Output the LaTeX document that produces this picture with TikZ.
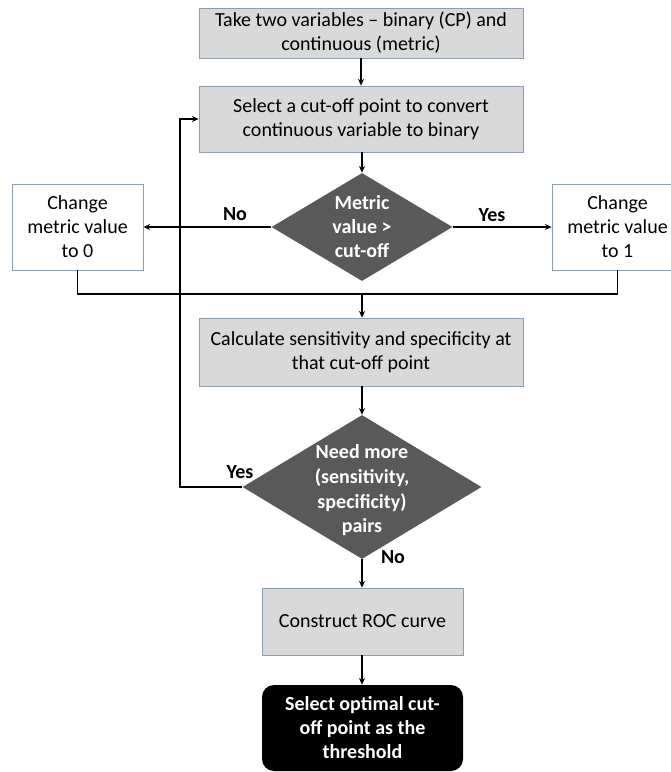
\documentclass[tikz,border=0pt]{standalone}
\usepackage{fontspec}
\setmainfont{Carlito}
\usetikzlibrary{shapes.geometric,arrows.meta}
\definecolor{boxfill}{HTML}{D9D9D9}
\definecolor{boxline}{HTML}{8C9DB0}
\definecolor{decfill}{HTML}{595959}
\begin{document}
\begin{tikzpicture}[x=0.75pt,y=-0.75pt,
  font=\fontsize{15}{18}\selectfont,
  graybox/.style={draw=boxline, line width=0.6pt, fill=boxfill, align=center, inner sep=0pt},
  whitebox/.style={draw=boxline, line width=0.6pt, fill=white, align=center, inner sep=0pt,
    minimum width=98.25pt, minimum height=64.5pt},
  decision/.style={diamond, fill=decfill, inner sep=0pt},
  dtext/.style={text=white, font=\fontsize{15}{18}\selectfont\bfseries, align=center, inner sep=0pt},
  endbox/.style={fill=black, rounded corners=9pt, text=white, align=center, inner sep=0pt,
    font=\fontsize{15}{18}\selectfont\bfseries},
  lbl/.style={font=\fontsize{15}{18}\selectfont\bfseries, inner sep=0pt},
  arr/.style={line width=1pt, -{Stealth[length=5pt,width=4.5pt]}},
  ln/.style={line width=1pt}]
\useasboundingbox (0,0) rectangle (671,772);

\node[graybox, minimum width=243pt, minimum height=37.5pt] (b1) at (361,33)
  {Take two variables -- binary (CP) and\\continuous (metric)};
\node[graybox, minimum width=243pt, minimum height=49.5pt] (b2) at (361,119)
  {Select a cut-off point to convert\\continuous variable to binary};
\node[decision, minimum width=135.75pt, minimum height=81pt] (d1) at (362,227) {};
\node[dtext] (d1t) at (d1.center) {Metric\\value >\\cut-off};
\node[whitebox] (L) at (77.5,227) {Change\\metric value\\to 0};
\node[whitebox] (R) at (617.5,227) {Change\\metric value\\to 1};
\node[graybox, minimum width=243pt, minimum height=51pt] (b3) at (361,352)
  {Calculate sensitivity and specificity at\\that cut-off point};
\node[decision, minimum width=179.25pt, minimum height=108pt] (d2) at (362,487) {};
\node[dtext, font=\fontsize{15}{18.6}\selectfont\bfseries] (d2t) at ([yshift=-2.5pt]d2.center) {Need more\\(sensitivity,\\specificity)\\pairs};
\node[graybox, minimum width=150.75pt, minimum height=50.25pt] (b4) at (362.5,621.5)
  {Construct ROC curve};
\node[endbox, minimum width=150.75pt, minimum height=64.5pt] (b5) at (362.5,728)
  {Select optimal cut-\\off point as the\\threshold};

\coordinate (j) at (362,294);
\coordinate (lp) at (180,487);

\draw[arr] (b1.south) -- (b2.north);
\draw[arr] (b2.south -| d1.north) -- (d1.north);
\draw[arr] (d1.west) -- (L.east);
\draw[arr] (d1.east) -- (R.west);
\draw[ln] (L.south) |- (j);
\draw[ln] (R.south) |- (j);
\draw[arr] (j) -- (b3.north -| j);
\draw[arr] (b3.south -| d2.north) -- (d2.north);
\draw[arr] (d2.west) -- (lp) |- (b2.west);
\draw[arr] (d2.south) -- (b4.north -| d2.south);
\draw[arr] (b4.south -| d2.south) -- (b5.north -| d2.south);

\node[lbl] (no1) at (235,214) {No};
\node[lbl] (yes1) at (492,215) {Yes};
\node[lbl] (yes2) at (240,472) {Yes};
\node[lbl] (no2) at (393,557) {No};
\end{tikzpicture}
\end{document}
